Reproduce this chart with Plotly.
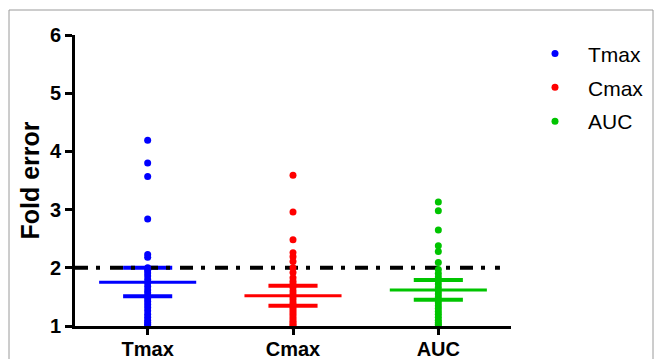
import plotly.graph_objects as go

categories = ["Tmax", "Cmax", "AUC"]
colors = ["#0000FF", "#FF0000", "#00C400"]

tmax_vals = [4.19, 3.80, 3.57, 2.84, 2.23, 2.18, 2.00, 1.96, 1.91, 1.86, 1.80, 1.74,
             1.68, 1.62, 1.57, 1.52, 1.47, 1.42, 1.37, 1.32, 1.26, 1.20, 1.15, 1.10,
             1.06, 1.03, 1.00]
cmax_vals = [3.59, 2.96, 2.48, 2.26, 2.19, 2.11, 2.00, 1.92, 1.83, 1.77, 1.72, 1.66,
             1.60, 1.55, 1.50, 1.45, 1.40, 1.36, 1.32, 1.28, 1.24, 1.20, 1.16, 1.12,
             1.08, 1.05, 1.02, 1.00]
auc_vals = [3.13, 2.98, 2.65, 2.38, 2.28, 2.09, 1.97, 1.90, 1.84, 1.78, 1.72, 1.66,
            1.60, 1.55, 1.50, 1.45, 1.40, 1.35, 1.30, 1.25, 1.20, 1.15, 1.10, 1.06,
            1.03, 1.00]
series_vals = [tmax_vals, cmax_vals, auc_vals]

means = [1.75, 1.52, 1.62]
upper = [2.00, 1.69, 1.79]
lower = [1.51, 1.35, 1.45]

threshold = 2.0
y_ticks = [1, 2, 3, 4, 5, 6]

FONT = "Arial, Liberation Sans, sans-serif"
MEAN_HW = 0.334
CAP_HW = 0.169

fig = go.Figure()

# error bars and mean lines
for i, c in enumerate(colors):
    fig.add_trace(go.Scatter(x=[i, i], y=[lower[i], upper[i]], mode="lines",
                             line=dict(color=c, width=4), showlegend=False, hoverinfo="skip"))
    for v in (upper[i], lower[i]):
        fig.add_trace(go.Scatter(x=[i - CAP_HW, i + CAP_HW], y=[v, v], mode="lines",
                                 line=dict(color=c, width=4), showlegend=False, hoverinfo="skip"))
    fig.add_trace(go.Scatter(x=[i - MEAN_HW, i + MEAN_HW], y=[means[i], means[i]], mode="lines",
                             line=dict(color=c, width=3), showlegend=False, hoverinfo="skip"))

# threshold dash-dot line
fig.add_trace(go.Scatter(x=[-0.5, 2.424], y=[threshold, threshold], mode="lines",
                         line=dict(color="black", width=4, dash="13px,8px,4px,10px"),
                         showlegend=False, hoverinfo="skip"))

# points
for i, (name, vals, c) in enumerate(zip(categories, series_vals, colors)):
    fig.add_trace(go.Scatter(x=[i] * len(vals), y=vals, mode="markers", name=name,
                             legendgroup=name,
                             marker=dict(color=c, size=7, line=dict(width=0)),
                             cliponaxis=False))

fig.add_shape(type="rect", xref="paper", yref="paper",
              x0=(9 - 75) / 436, x1=(653 - 75) / 436,
              y0=-0.3, y1=(326 - 10) / 291,
              line=dict(color="#9a9a9a", width=1), fillcolor="rgba(0,0,0,0)", layer="below")

fig.update_layout(
    width=654, height=359,
    margin=dict(l=75, r=143, t=35, b=33),
    plot_bgcolor="white", paper_bgcolor="white",
    font=dict(family=FONT, color="black"),
    showlegend=True,
    legend=dict(xref="container", x=522 / 654, y=1.0055, xanchor="left", yanchor="top",
                font=dict(size=21, family=FONT, color="black"),
                traceorder="grouped", tracegroupgap=3.5, itemwidth=56,
                bgcolor="rgba(0,0,0,0)"),
    xaxis=dict(range=[-0.5, 2.5], tickvals=[0, 1, 2], ticktext=["<b>%s</b>" % c for c in categories],
               showgrid=False, zeroline=False, showline=True, linecolor="black", linewidth=3,
               ticks="outside", ticklen=6, tickwidth=3, tickcolor="black", automargin=False,
               ticklabelstandoff=-3,
               tickfont=dict(size=20, family=FONT, color="black")),
    yaxis=dict(range=[1, 6], tickvals=y_ticks, ticktext=["<b>%d</b>" % t for t in y_ticks],
               showgrid=False, zeroline=False, showline=True, linecolor="black", linewidth=3,
               ticks="outside", ticklen=7, tickwidth=3, tickcolor="black", automargin=False,
               tickfont=dict(size=20, family=FONT, color="black"),
               title=dict(text="<b>Fold error</b>", font=dict(size=25, family=FONT, color="black"),
                          standoff=4)),
)

fig.write_html("out.html")
